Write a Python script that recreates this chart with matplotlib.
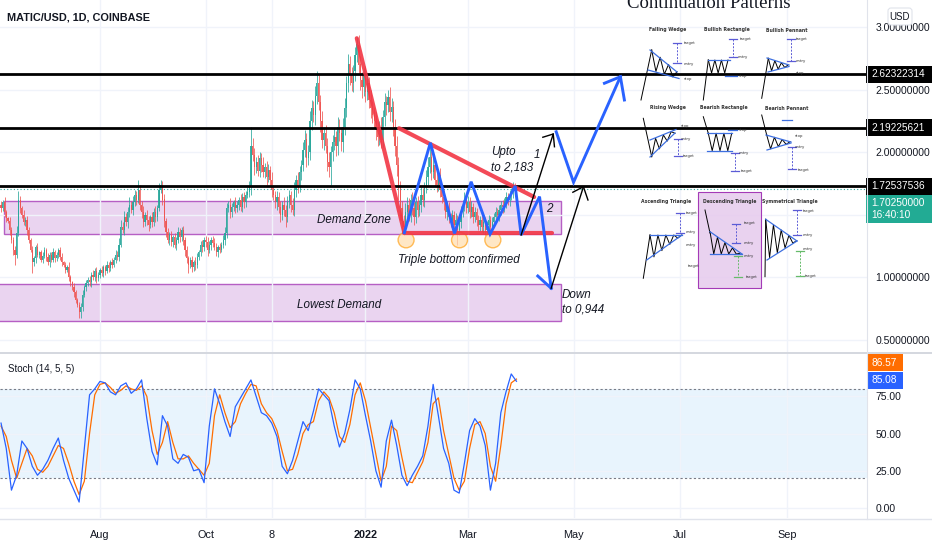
import numpy as np
import pandas as pd
import matplotlib
matplotlib.use('Agg')
import matplotlib.pyplot as plt
from matplotlib.patches import Rectangle, Ellipse, FancyBboxPatch

# ---- data (daily candles, MATIC/USD, starting 2021-06-05) ----
start = pd.Timestamp('2021-06-05')
first_open = 1.58
closes = [
    1.55, 1.60, 1.52, 1.47, 1.45, 1.38, 1.30, 1.22, 1.18, 1.35,
    1.62, 1.55, 1.50, 1.44, 1.46, 1.38, 1.30, 1.22, 1.12, 1.15,
    1.24, 1.18, 1.20, 1.14, 1.17, 1.22, 1.16, 1.12, 1.18, 1.14,
    1.20, 1.15, 1.18, 1.22, 1.16, 1.12, 1.10, 1.06, 1.08, 1.00,
    0.96, 0.92, 0.88, 0.82, 0.78, 0.72, 0.76, 0.86, 0.92, 0.95,
    0.98, 0.96, 1.02, 1.00, 1.05, 0.99, 1.02, 1.06, 1.03, 1.08,
    1.05, 1.10, 1.07, 1.12, 1.10, 1.14, 1.18, 1.16, 1.26, 1.40,
    1.38, 1.48, 1.44, 1.52, 1.58, 1.54, 1.60, 1.66, 1.62, 1.70,
    1.58, 1.52, 1.44, 1.50, 1.46, 1.42, 1.48, 1.44, 1.52, 1.48,
    1.55, 1.70, 1.74, 1.62, 1.45, 1.36, 1.30, 1.34, 1.28, 1.32,
    1.26, 1.30, 1.36, 1.32, 1.38, 1.30, 1.22, 1.15, 1.10, 1.14,
    1.08, 1.12, 1.10, 1.16, 1.20, 1.26, 1.24, 1.30, 1.28, 1.22,
    1.26, 1.30, 1.27, 1.24, 1.20, 1.24, 1.22, 1.26, 1.30, 1.35,
    1.55, 1.58, 1.52, 1.56, 1.60, 1.55, 1.58, 1.62, 1.56, 1.64,
    1.60, 1.66, 1.68, 1.72, 2.05, 1.98, 1.88, 1.92, 1.85, 1.95,
    1.90, 1.84, 1.88, 1.80, 1.86, 1.78, 1.70, 1.66, 1.60, 1.64,
    1.56, 1.50, 1.58, 1.54, 1.48, 1.60, 1.66, 1.58, 1.54, 1.70,
    1.78, 1.72, 1.84, 1.90, 2.02, 2.10, 1.95, 2.00, 2.25, 2.35,
    2.30, 2.45, 2.55, 2.40, 2.25, 2.10, 2.15, 2.05, 1.92, 1.88,
    2.00, 2.08, 2.12, 2.05, 2.20, 2.15, 2.08, 2.20, 2.35, 2.55,
    2.70, 2.62, 2.55, 2.65, 2.78, 2.86, 2.70, 2.58, 2.52, 2.62,
    2.48, 2.55, 2.42, 2.35, 2.30, 2.25, 2.18, 2.12, 2.20, 2.10,
    2.28, 2.40, 2.38, 2.44, 2.32, 2.36, 2.20, 2.05, 1.90, 1.72,
    1.55, 1.45, 1.40, 1.52, 1.58, 1.50, 1.62, 1.55, 1.48, 1.60,
    1.54, 1.58, 1.66, 1.62, 1.72, 1.80, 1.88, 1.96, 1.84, 1.90,
    1.78, 1.74, 1.82, 1.70, 1.64, 1.60, 1.52, 1.56, 1.48, 1.45,
    1.50, 1.42, 1.46, 1.38, 1.44, 1.52, 1.58, 1.62, 1.55, 1.60,
    1.52, 1.56, 1.48, 1.52, 1.46, 1.42, 1.46, 1.40, 1.44, 1.38,
    1.42, 1.46, 1.40, 1.44, 1.48, 1.52, 1.50, 1.54, 1.58, 1.56,
    1.60, 1.64, 1.62, 1.66, 1.68, 1.72, 1.69, 1.7025,
]
# upper / lower wick lengths, in cents
wick_up = [
    3, 2, 4, 2, 1, 3, 2, 2, 3, 6,  7, 3, 2, 4, 2, 3, 2, 1, 3, 2,
    2, 3, 1, 2, 3, 2, 1, 3, 2, 2,  3, 2, 2, 1, 2, 3, 1, 2, 2, 4,
    2, 1, 3, 2, 1, 2, 3, 4, 2, 3,  2, 3, 2, 4, 2, 3, 2, 1, 3, 2,
    2, 3, 2, 2, 3, 2, 4, 3, 5, 6,  4, 5, 3, 4, 6, 3, 5, 4, 3, 8,
    4, 3, 5, 2, 4, 3, 2, 4, 3, 5,  3, 5, 4, 3, 4, 2, 3, 2, 3, 2,
    3, 2, 4, 3, 2, 3, 2, 3, 2, 2,  3, 2, 4, 3, 2, 3, 4, 2, 3, 4,
    3, 2, 3, 4, 3, 2, 3, 2, 4, 5,  4, 3, 5, 3, 2, 4, 3, 2, 4, 3,
    4, 3, 4, 5, 15, 6, 5, 4, 6, 5, 4, 6, 3, 5, 4, 3, 6, 4, 3, 5,
    4, 5, 3, 6, 4, 5, 4, 3, 5, 6,  4, 6, 5, 4, 6, 8, 5, 6, 8, 7,
    6, 8, 10, 7, 6, 8, 5, 7, 6, 8, 5, 6, 7, 5, 8, 6, 5, 7, 8, 6,
    8, 7, 6, 5, 6, 6, 8, 7, 6, 5,  7, 6, 5, 8, 6, 5, 7, 6, 5, 8,
    6, 7, 5, 6, 8, 7, 5, 6, 8, 6,  5, 6, 5, 7, 6, 5, 4, 6, 5, 4,
    5, 4, 6, 5, 4, 6, 8, 9, 5, 6,  5, 6, 4, 5, 4, 6, 4, 5, 4, 3,
    4, 3, 5, 4, 3, 5, 4, 6, 4, 5,  4, 5, 3, 4, 3, 4, 3, 4, 3, 4,
    3, 4, 3, 4, 3, 4, 3, 4, 3, 4,  3, 4, 3, 4, 3, 4, 3, 2,
]
wick_dn = [
    3, 2, 4, 3, 2, 4, 3, 4, 8, 3,  2, 4, 3, 2, 3, 4, 3, 2, 9, 3,
    4, 2, 3, 2, 3, 2, 3, 2, 4, 2,  2, 3, 2, 3, 2, 3, 2, 3, 2, 3,
    3, 2, 4, 3, 2, 5, 5, 3, 2, 3,  2, 3, 4, 2, 3, 4, 2, 3, 2, 3,
    3, 2, 3, 2, 3, 2, 3, 2, 3, 2,  3, 4, 3, 5, 4, 3, 4, 3, 4, 3,
    4, 5, 4, 3, 4, 5, 3, 4, 3, 4,  3, 2, 3, 4, 5, 4, 3, 4, 3, 4,
    3, 4, 3, 4, 3, 4, 5, 4, 7, 3,  4, 3, 4, 3, 2, 3, 4, 3, 4, 5,
    3, 4, 3, 2, 3, 4, 3, 2, 3, 4,  4, 3, 5, 4, 3, 4, 3, 4, 3, 4,
    5, 4, 3, 4, 6, 5, 6, 5, 4, 5,  6, 4, 5, 6, 4, 5, 6, 4, 5, 6,
    5, 6, 4, 5, 8, 4, 5, 6, 4, 5,  6, 5, 4, 6, 5, 6, 7, 5, 6, 7,
    6, 8, 7, 6, 9, 7, 8, 6, 7, 8,  14, 7, 6, 8, 7, 6, 7, 8, 6, 7,
    7, 8, 6, 7, 8, 6, 7, 8, 9, 7,  8, 6, 7, 8, 7, 6, 8, 7, 6, 7,
    6, 7, 8, 6, 7, 8, 7, 8, 9, 10, 9, 8, 6, 5, 6, 5, 6, 5, 6, 5,
    6, 5, 6, 5, 6, 5, 6, 5, 6, 5,  5, 6, 5, 6, 5, 6, 5, 6, 5, 5,
    4, 5, 4, 12, 4, 5, 4, 5, 4, 4, 5, 4, 5, 4, 5, 4, 5, 4, 5, 4,
    4, 5, 4, 5, 4, 5, 4, 5, 4, 5,  4, 5, 4, 5, 4, 5, 4, 3,
]

# Stoch (14, 5, 5), read every 3rd day
stoch_step = 3
stoch_k = [57, 40, 12, 22, 45, 40, 28, 22, 26, 32, 40, 47, 32, 20, 12, 4, 40, 76, 80, 85,
           84, 78, 76, 82, 84, 77, 80, 86, 60, 38, 29, 62, 55, 33, 30, 36, 34, 25, 26, 17,
           55, 80, 70, 58, 48, 68, 74, 80, 86, 75, 64, 62, 57, 48, 28, 23, 32, 45, 58, 52,
           65, 80, 76, 72, 55, 41, 50, 66, 86, 80, 62, 45, 25, 14, 45, 59, 42, 22, 15, 22,
           28, 35, 55, 83, 62, 40, 30, 12, 10, 30, 52, 60, 55, 42, 12, 30, 64, 78, 90, 85.08]
stoch_d = [55, 48, 32, 20, 30, 40, 35, 26, 24, 28, 35, 42, 40, 30, 18, 9, 18, 50, 76, 83,
           84, 81, 77, 79, 82, 80, 79, 82, 75, 52, 36, 44, 58, 44, 33, 33, 35, 30, 26, 22,
           30, 62, 76, 64, 54, 58, 70, 77, 83, 82, 70, 64, 60, 52, 38, 25, 26, 36, 50, 56,
           58, 72, 78, 74, 64, 48, 44, 56, 76, 84, 72, 54, 36, 18, 28, 55, 52, 34, 18, 17,
           24, 31, 44, 70, 74, 52, 36, 20, 12, 18, 40, 56, 58, 50, 28, 18, 42, 70, 84, 86.57]

levels = [2.62322314, 2.19225621, 1.72537536]
last_price = 1.7025
countdown = '16:40:10'
demand_zone = (1.344, 1.608)
lowest_demand = (0.648, 0.944)

tick_dates = ['2021-08-01', '2021-10-01', '2021-11-08', '2022-01-01',
              '2022-03-01', '2022-05-01', '2022-07-01', '2022-09-01']
tick_labels = ['Aug', 'Oct', '8', '2022', 'Mar', 'May', 'Jul', 'Sep']
price_ticks = [0.5, 1.0, 1.5, 2.0, 2.5, 3.0]
stoch_ticks = [0, 25, 50, 75]

# drawings on the chart: (day index, price)
red_lines = [[(205, 2.91), (232.3, 1.36)],
             [(229.4, 2.19), (307.2, 1.64)],
             [(232.3, 1.35), (317.4, 1.35)]]
blue_zigzag = [(232.4, 1.354), (247.4, 2.074), (261.3, 1.349), (270.9, 1.762),
               (281.8, 1.344), (296.3, 1.728), (299.7, 1.336), (310.3, 1.643),
               (317.0, 0.910)]
blue_head_low = [(309.3, 1.008), (317.0, 0.910)]
blue_up = [(319.9, 2.162), (329.9, 1.758), (356.9, 2.602)]
blue_head_up = [(347.7, 2.55), (356.9, 2.602), (359.2, 2.416)]
black_arrows = [[(299.7, 1.336), (318.2, 2.144)], [(317.0, 0.910), (335.6, 1.722)]]
black_heads = [[(312.2, 2.118), (318.2, 2.144), (318.9, 2.042)],
               [(329.5, 1.678), (335.6, 1.722), (338.2, 1.616)]]
bottoms = [(233.4, 1.296), (264.2, 1.296), (283.4, 1.296)]

W, H = 932, 550
fig = plt.figure(figsize=(W / 100, H / 100), dpi=100)
fig.patch.set_facecolor('white')
AXR = 867 / W

def fy(py):
    return 1 - py / H

ax = fig.add_axes([0, fy(352), AXR, 352 / H])
sx = fig.add_axes([0, fy(518), AXR, (518 - 354) / H])

tick_pos = [(pd.Timestamp(d) - start).days for d in tick_dates]
XMIN, XMAX = -0.6, 499
for a in (ax, sx):
    a.set_xlim(XMIN, XMAX)
    for s in a.spines.values():
        s.set_visible(False)
    a.set_xticks(tick_pos)
    a.grid(True, color='#f0f3fa', lw=1, zorder=0)
    a.yaxis.tick_right()
    a.tick_params(length=0, labelsize=7.5, labelcolor='#131722', pad=6)

# ---- price panel ----
ax.set_ylim(0.4, 3.216)
ax.set_yticks(price_ticks)
ax.set_yticklabels(['%.8f' % v for v in price_ticks], family='Liberation Sans')
ax.tick_params(axis='x', labelbottom=False)

n = len(closes)
days = np.arange(n)
c = np.array(closes)
o = np.r_[first_open, c[:-1]]
hi = np.maximum(o, c) + np.array(wick_up) / 100
lo = np.minimum(o, c) - np.array(wick_dn) / 100
col = np.where(c >= o, '#26a69a', '#ef5350')

# zones
for (z0, z1), x0 in ((demand_zone, 1.7), (lowest_demand, -5)):
    ax.add_patch(Rectangle((x0, z0), 322.8 - x0, z1 - z0, facecolor='#e7cdee',
                           edgecolor='#ab47bc', lw=1.0, alpha=0.85, zorder=1))

ax.vlines(days, lo, hi, colors=col, lw=0.6, zorder=2, alpha=0.9)
ax.bar(days, np.maximum(np.abs(c - o), 0.006), bottom=np.minimum(o, c), width=0.7,
       color=col, lw=0, zorder=2, alpha=0.9)

for lv in levels:
    ax.axhline(lv, color='black', lw=2.0, zorder=3)
ax.axhline(last_price, color='#26a69a', lw=0.8, ls=(0, (1, 2)), zorder=3)

for seg in red_lines:
    xs, ys = zip(*seg)
    ax.plot(xs, ys, color='#f23645', lw=3.0, alpha=0.9, solid_capstyle='round', zorder=5)

for path in (blue_zigzag, blue_head_low, blue_up, blue_head_up):
    xs, ys = zip(*path)
    ax.plot(xs, ys, color='#2962ff', lw=2.1, solid_joinstyle='miter', zorder=6)
for path in black_arrows + black_heads:
    xs, ys = zip(*path)
    ax.plot(xs, ys, color='black', lw=1.0, zorder=6)

for bx, by in bottoms:
    ax.add_patch(Ellipse((bx, by), 9.2, 0.125, facecolor='#ffe0b2', edgecolor='#ffa726',
                         lw=1.0, alpha=0.75, zorder=4))

it = dict(family='Liberation Sans', style='italic', color='#131722', fontsize=8.4,
          va='center', ha='left', zorder=7)
ax.text(182.1, 1.456, 'Demand Zone', **it)
ax.text(170.6, 0.776, 'Lowest Demand', **it)
ax.text(228.8, 1.136, 'Triple bottom confirmed', **it)
ax.text(282.4, 2.0, 'Upto', **it)
ax.text(282.4, 1.88, 'to 2,183', **it)
ax.text(307.2, 1.976, '1', **it)
ax.text(314.1, 1.544, '2', **it)
ax.text(323.3, 0.856, 'Down', **it)
ax.text(323.3, 0.736, 'to 0,944', **it)

# ---- stochastic panel ----
sx.set_ylim(-6.7, 103.4)
sx.set_yticks(stoch_ticks)
sx.set_yticklabels(['%.2f' % v for v in stoch_ticks], family='Liberation Sans')
sx.set_xticklabels(tick_labels, family='Liberation Sans')
sx.tick_params(axis='x', pad=9, labelsize=7.8)
for t in sx.get_xticklabels():
    if t.get_text() == '2022':
        t.set_fontweight('bold')
sx.axhspan(20, 80, color='#2196f3', alpha=0.1, lw=0, zorder=1)
sx.axhline(80, color='#787b86', lw=0.8, ls=(0, (2, 2)), zorder=2)
sx.axhline(20, color='#787b86', lw=0.8, ls=(0, (2, 2)), zorder=2)
sdays = np.arange(len(stoch_k)) * stoch_step
sx.plot(sdays, stoch_k, color='#2962ff', lw=0.9, zorder=4)
sx.plot(sdays, stoch_d, color='#ff6d00', lw=0.9, zorder=3)
sx.text(4, 93, 'Stoch (14, 5, 5)', fontsize=7, color='#131722', family='Liberation Sans',
        va='center')

# ---- overlay (pixel coords) ----
ov = fig.add_axes([0, 0, 1, 1], zorder=10)
ov.set_xlim(0, W)
ov.set_ylim(H, 0)
ov.axis('off')
ov.patch.set_visible(False)

ov.plot([0, W], [353, 353], color='#d1d4dc', lw=1.3)
ov.plot([0, W], [519, 519], color='#e0e3eb', lw=1.0)
ov.plot([867, 867], [0, 519], color='#e0e3eb', lw=0.8)

ov.text(7, 18, 'MATIC/USD, 1D, COINBASE', fontsize=7.8, color='#131722',
        family='Liberation Sans', fontweight='semibold', va='center', ha='left')
ov.text(627, 8, 'Continuation Patterns', fontsize=13.5, family='Liberation Serif',
        color='#131722', va='baseline', ha='left')

ov.add_patch(FancyBboxPatch((888, 8), 24, 17, boxstyle='round,pad=0,rounding_size=3',
                            facecolor='white', edgecolor='#e0e3eb', lw=0.8))
ov.text(900, 16.5, 'USD', fontsize=7, color='#131722', ha='center', va='center',
        family='Liberation Sans')

def ybox(v):
    return (3.216 - v) / 0.008

bt = dict(color='white', fontsize=7.3, va='center', family='Liberation Sans')
for lv in levels:
    yy = ybox(lv)
    ov.add_patch(Rectangle((866, yy - 8.5), 66, 17, facecolor='black', lw=0))
    ov.text(871, yy, '%.8f' % lv, **bt)
ov.add_patch(Rectangle((866, 195), 66, 28, facecolor='#22ab94', lw=0))
ov.text(871, 202.5, '%.8f' % last_price, **bt)
ov.text(871, 215.5, countdown, **bt)

ov.add_patch(Rectangle((867, 354), 36, 17, facecolor='#ff6d00', lw=0))
ov.text(872, 362.5, '%.2f' % stoch_d[-1], **bt)
ov.add_patch(Rectangle((867, 371.5), 36, 17, facecolor='#2962ff', lw=0))
ov.text(872, 380, '%.2f' % stoch_k[-1], **bt)

# ---- continuation pattern cheat sheet ----
PURPLE = '#5b5bd6'
GREEN = '#66bb6a'
BLUE = '#3d6fe0'

def line(pts, color='black', lw=0.7, ls='-'):
    xs, ys = zip(*pts)
    ov.plot(xs, ys, color=color, lw=lw, ls=ls)

def zig(x0, x1, t0, t1, b0, b1, n, top_first=True):
    pts = []
    for k in range(n + 1):
        f = k / n
        on_top = (k % 2 == 0) == top_first
        y = t0 + (t1 - t0) * f if on_top else b0 + (b1 - b0) * f
        pts.append((x0 + (x1 - x0) * f, y))
    line(pts)

def bracket(x, y0, y1, color=PURPLE):
    ov.plot([x, x], [y0, y1], color=color, lw=0.7, ls=(0, (2, 1.5)))
    for y in (y0, y1):
        ov.plot([x - 4, x + 4], [y, y], color=color, lw=0.9)

def lab(x, y, s):
    ov.text(x, y, s, fontsize=2.8, color='#333333', va='center', ha='left')

def title(x, y, s):
    ov.text(x, y, s, fontsize=3.3, color='#333333', fontweight='bold', ha='center',
            va='center')

# falling wedge
title(668, 30, 'Falling Wedge')
line([(641, 100), (651.7, 50)])
zig(651.7, 677, 50, 71.7, 70, 78.3, 6)
line([(650, 50), (677, 72)], BLUE, 0.9)
line([(648, 70), (679, 78.5)], BLUE, 0.9)
bracket(677.3, 43.3, 63.3)
lab(684, 43, 'target'); lab(684, 64, 'entry'); lab(684, 79, 'stop')

# bullish rectangle
title(727, 30, 'Bullish Rectangle')
line([(703.3, 100), (708.3, 60)])
zig(708.3, 728, 60, 60, 73, 73, 6)
line([(708, 59.5), (730, 59.5)], BLUE, 0.9)
line([(725, 76), (737, 76)], BLUE, 0.9)
bracket(733.3, 39.3, 57.3)
lab(740, 39, 'target'); lab(738, 57, 'entry'); lab(739, 76, 'stop')

# bullish pennant
title(787, 30, 'Bullish Pennant')
line([(761.7, 98.3), (768.3, 58.3)])
zig(768.3, 788, 58.3, 65, 71.7, 66.7, 6)
line([(767, 58), (789, 65)], BLUE, 0.9)
line([(768, 72), (789, 66.5)], BLUE, 0.9)
bracket(790.7, 39.3, 61)
lab(796, 39, 'target'); lab(796, 61, 'entry'); lab(796, 73, 'stop')

# rising wedge
title(668, 108, 'Rising Wedge')
line([(643.3, 118.3), (651.7, 156.7)])
zig(651.7, 675, 140, 130, 156.7, 133.3, 6, top_first=False)
line([(650, 140), (676, 129.5)], BLUE, 0.9)
line([(650, 157), (675, 133)], BLUE, 0.9)
bracket(678.3, 139.3, 156)
lab(681, 126, 'stop'); lab(681, 139, 'entry'); lab(683, 156, 'target')

# bearish rectangle
title(724, 108, 'Bearish Rectangle')
line([(703.3, 116.7), (708.3, 133.3)])
zig(708.3, 731.7, 133.3, 133.3, 150.7, 150.7, 6)
line([(707, 133.3), (732, 133.3)], BLUE, 0.9)
line([(707, 150.7), (732, 150.7)], BLUE, 0.9)
line([(728, 130), (737, 130)], BLUE, 0.9)
bracket(735, 153.3, 170.7)
lab(739, 130, 'stop'); lab(739, 153, 'entry'); lab(741, 171, 'target')

# bearish pennant
title(787, 108, 'Bearish Pennant')
line([(781.7, 120), (791.7, 120)], BLUE, 0.9)
line([(761.7, 115), (766.7, 135)])
zig(766.7, 790, 135, 141.7, 150, 143.3, 6)
line([(766, 135), (791, 142)], BLUE, 0.9)
line([(767, 150), (791, 143)], BLUE, 0.9)
bracket(791.7, 146.7, 169.3)
lab(795, 136, 'stop'); lab(795, 147, 'entry'); lab(798, 170, 'target')

# ascending triangle
title(666, 202, 'Ascending Triangle')
line([(643.3, 278.3), (650, 235)])
zig(650, 681.7, 235, 235, 260, 235, 8)
line([(650, 235), (682, 235)], BLUE, 0.9)
line([(646.7, 260), (682, 235)], BLUE, 0.9)
bracket(680, 212.7, 232.7)
lab(686, 213, 'target'); lab(686, 232, 'entry'); lab(686, 245, 'entry'); lab(688, 266, 'target')

# descending triangle (highlighted)
ov.add_patch(Rectangle((698.3, 191.7), 62.7, 96.6, facecolor='#e7cdee', edgecolor='#9c27b0',
                       lw=0.8, alpha=0.9))
title(730, 202, 'Descending Triangle')
line([(705, 210), (710, 233)])
zig(710, 740, 231.7, 253.3, 254, 254, 8)
line([(710, 231.7), (742, 254)], BLUE, 0.9)
line([(710, 254), (742, 254)], BLUE, 0.9)
bracket(736, 224, 242.7)
bracket(738.3, 256, 276.7, GREEN)
lab(744, 223, 'target'); lab(744, 243, 'entry'); lab(744, 256, 'entry'); lab(746, 277, 'target')

# symmetrical triangle
title(790, 202, 'Symmetrical Triangle')
line([(765, 276.7), (765.7, 219.3)])
zig(765.7, 796.7, 219.3, 240.7, 260, 240.7, 8)
line([(765.7, 219.3), (797, 241)], BLUE, 0.9)
line([(767, 260), (797, 241)], BLUE, 0.9)
bracket(797.3, 210, 235)
bracket(800, 250.7, 276, GREEN)
lab(803, 211, 'target'); lab(803, 235, 'entry'); lab(803, 249, 'entry'); lab(805, 276, 'target')

fig.savefig('out.png', dpi=100, facecolor='white')
